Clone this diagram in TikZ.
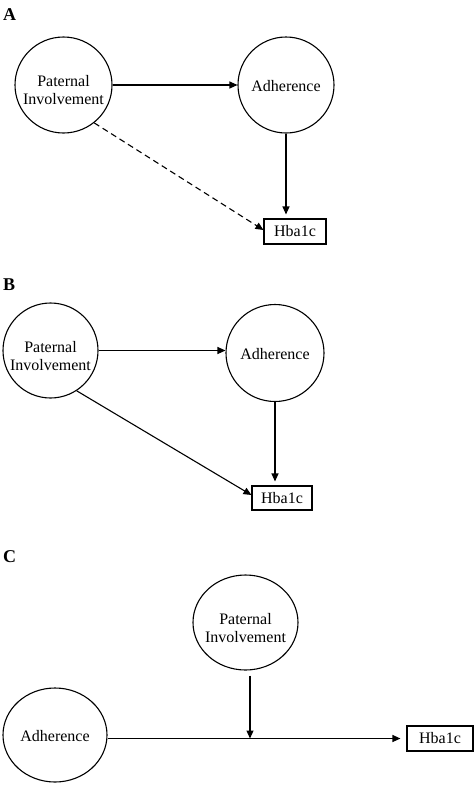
\documentclass[tikz,border=0pt]{standalone}
\usepackage{fontspec}
\setmainfont{Liberation Serif}
\usetikzlibrary{arrows.meta,shapes.geometric}
\begin{document}
\begin{tikzpicture}[x=1pt,y=-1pt,
  ell/.style={draw,ellipse,line width=1.1pt,inner sep=0pt},
  txt/.style={align=center,inner sep=0pt,font=\fontsize{16}{18}\selectfont},
  hb/.style={draw,line width=1.1pt,minimum width=62pt,minimum height=25pt,inner sep=0pt,font=\fontsize{16}{18}\selectfont},
  lab/.style={anchor=base west,inner sep=0pt,font=\fontsize{18}{20}\selectfont\bfseries},
  arr/.style={line width=1.1pt,-{Triangle[length=8pt,width=7pt]}},
  dsh/.style={arr,dash pattern=on 6pt off 4pt}]
\useasboundingbox (0,0) rectangle (475,785);
% ---------- Panel A ----------
\node[lab] (la) at (3,20) {A};
\node[ell,minimum width=97pt,minimum height=96pt] (piA) at (63.5,85) {};
\node[txt] (tpiA) at (63.5,90) {Paternal\\Involvement};
\node[ell,minimum width=96pt,minimum height=96pt] (adA) at (286,85) {};
\node[txt] (tadA) at (286,86) {Adherence};
\node[hb] (hbA) at (295,231.5) {Hba1c};
\draw[arr] (piA.east) -- (adA.west);
\draw[arr,shorten >=4pt] (adA.south) -- (adA.south |- hbA.north);
\draw[dsh] (piA.-51) -- ([yshift=1.5pt]hbA.west);
% ---------- Panel B ----------
\node[lab] (lb) at (3,290) {B};
\node[ell,minimum width=95pt,minimum height=95pt] (piB) at (50.5,350.5) {};
\node[txt] (tpiB) at (50.5,356) {Paternal\\Involvement};
\node[ell,minimum width=98pt,minimum height=97pt] (adB) at (275,353) {};
\node[txt] (tadB) at (275,354) {Adherence};
\node[hb,minimum width=60pt,minimum height=24pt] (hbB) at (282,498) {Hba1c};
\draw[arr] (piB.east) -- (adB.west |- piB.east);
\draw[arr,shorten >=4pt] (adB.south) -- (adB.south |- hbB.north);
\draw[arr] (piB.-57) -- ([yshift=3pt]hbB.west);
% ---------- Panel C ----------
\node[lab] (lc) at (3,562) {C};
\node[ell,minimum width=105pt,minimum height=95pt] (pC) at (245.5,622.5) {};
\node[txt] (tpC) at (245.5,628) {Paternal\\Involvement};
\node[ell,minimum width=104pt,minimum height=94pt] (adC) at (55,735) {};
\node[txt] (tadC) at (55,736) {Adherence};
\node[hb,minimum width=66pt] (hbC) at (440,738.5) {Hba1c};
\coordinate (mC) at (250,738.5);
\draw[arr,shorten >=6pt] (adC.east |- hbC.west) -- (hbC.west);
\draw[arr,shorten <=5pt] (pC.south -| mC) -- (mC);
\end{tikzpicture}
\end{document}
